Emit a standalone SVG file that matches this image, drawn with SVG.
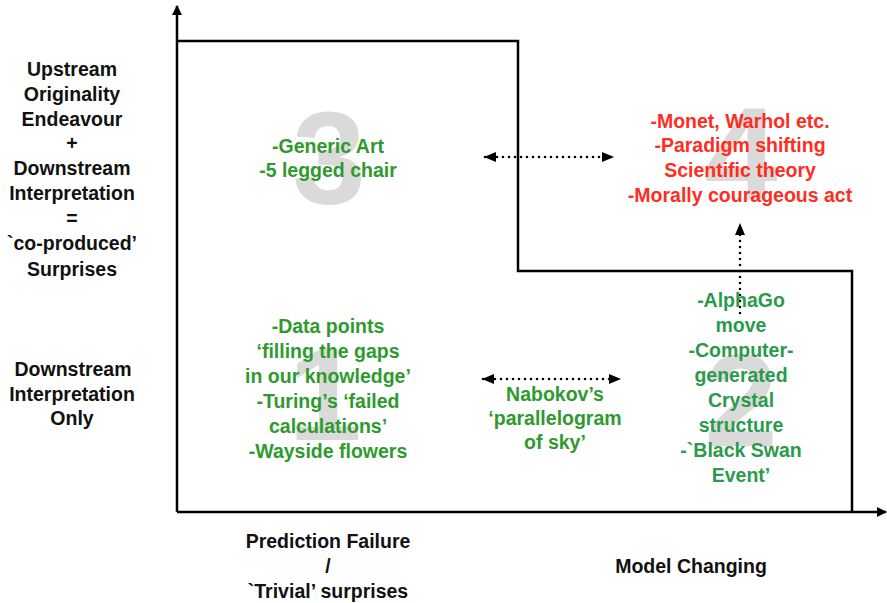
<svg xmlns="http://www.w3.org/2000/svg" width="887" height="603" viewBox="0 0 887 603">
  <style>
    text { font-family: "Liberation Sans", Arial, Helvetica, sans-serif; font-weight: bold; text-anchor: middle; }
    .lbl { font-size: 19.5px; fill: #111111; }
    .grn { font-size: 19.5px; fill: #2e9a2e; }
    .teal { font-size: 19.5px; fill: #2a9a4c; }
    .red { font-size: 19.5px; fill: #ff2d1f; }
    .num { font-size: 132px; fill: #dadada; }
    .axis { stroke: #000; stroke-width: 2.5; fill: none; }
    .dot { stroke: #000; stroke-width: 2.6; stroke-linecap: round; stroke-dasharray: 0 6; fill: none; }
  </style>
  <defs>
    <marker id="axisHead" viewBox="0 0 10 10" refX="9" refY="5" markerWidth="10" markerHeight="10" markerUnits="userSpaceOnUse" orient="auto">
      <path d="M0,0 L10,5 L0,10 z" fill="#000"/>
    </marker>
    <marker id="dotHead" viewBox="0 0 12 10" refX="11" refY="5" markerWidth="12" markerHeight="10" markerUnits="userSpaceOnUse" orient="auto-start-reverse">
      <path d="M0,0 L12,5 L0,10 z" fill="#000"/>
    </marker>
  </defs>

  <rect width="887" height="603" fill="#ffffff"/>

  <!-- quadrant numbers (background) -->
  <g id="quadrant-numbers">
    <text class="num" x="329" y="204">3</text>
    <text class="num" x="741" y="199">4</text>
    <text class="num" x="325" y="440">1</text>
    <text class="num" x="741" y="446">2</text>
  </g>

  <!-- axes and region outline -->
  <g id="axes">
    <line class="axis" x1="177" y1="512" x2="177" y2="6" marker-end="url(#axisHead)"/>
    <line class="axis" x1="177" y1="512" x2="886" y2="512" marker-end="url(#axisHead)"/>
    <polyline class="axis" points="177,41 518,41 518,271 852,271 852,512"/>
  </g>

  <!-- connectors -->
  <g id="connectors">
    <line class="dot" x1="485" y1="157" x2="613" y2="157" marker-start="url(#dotHead)" marker-end="url(#dotHead)"/>
    <line class="dot" x1="483" y1="379" x2="620" y2="379" marker-start="url(#dotHead)" marker-end="url(#dotHead)"/>
    <line class="dot" x1="740" y1="313" x2="740" y2="224" marker-end="url(#dotHead)"/>
  </g>

  <!-- vertical axis labels -->
  <g id="y-label-upper">
    <text class="lbl" x="72" y="76">Upstream</text>
    <text class="lbl" x="72" y="101">Originality</text>
    <text class="lbl" x="72" y="126">Endeavour</text>
    <text class="lbl" x="72" y="150">+</text>
    <text class="lbl" x="72" y="175">Downstream</text>
    <text class="lbl" x="72" y="200">Interpretation</text>
    <text class="lbl" x="72" y="225">=</text>
    <text class="lbl" x="72" y="250">`co-produced’</text>
    <text class="lbl" x="72" y="276">Surprises</text>
  </g>
  <g id="y-label-lower">
    <text class="lbl" x="73" y="376">Downstream</text>
    <text class="lbl" x="72" y="401">Interpretation</text>
    <text class="lbl" x="72" y="425">Only</text>
  </g>

  <!-- horizontal axis labels -->
  <g id="x-label-left">
    <text class="lbl" x="328" y="548">Prediction Failure</text>
    <text class="lbl" x="328" y="573">/</text>
    <text class="lbl" x="328" y="598">`Trivial’ surprises</text>
  </g>
  <g id="x-label-right">
    <text class="lbl" x="691" y="573">Model Changing</text>
  </g>

  <!-- quadrant 3 -->
  <g id="q3">
    <text class="grn" x="328" y="153">-Generic Art</text>
    <text class="grn" x="328" y="177">-5 legged chair</text>
  </g>

  <!-- quadrant 4 -->
  <g id="q4">
    <text class="red" x="740" y="128">-Monet, Warhol etc.</text>
    <text class="red" x="740" y="152">-Paradigm shifting</text>
    <text class="red" x="740" y="177">Scientific theory</text>
    <text class="red" x="740" y="202">-Morally courageous act</text>
  </g>

  <!-- quadrant 1 -->
  <g id="q1">
    <text class="grn" x="328" y="333">-Data points</text>
    <text class="grn" x="328" y="358">‘filling the gaps</text>
    <text class="grn" x="328" y="383">in our knowledge’</text>
    <text class="grn" x="328" y="408">-Turing’s ‘failed</text>
    <text class="grn" x="328" y="433">calculations’</text>
    <text class="grn" x="328" y="458">-Wayside flowers</text>
  </g>

  <!-- between quadrants 1 and 2 -->
  <g id="nabokov">
    <text class="grn" x="555" y="401">Nabokov’s</text>
    <text class="grn" x="555" y="425">‘parallelogram</text>
    <text class="grn" x="555" y="449">of sky’</text>
  </g>

  <!-- quadrant 2 -->
  <g id="q2">
    <text class="teal" x="741" y="307">-AlphaGo</text>
    <text class="teal" x="741" y="332">move</text>
    <text class="teal" x="741" y="357">-Computer-</text>
    <text class="teal" x="741" y="382">generated</text>
    <text class="teal" x="741" y="407">Crystal</text>
    <text class="teal" x="741" y="432">structure</text>
    <text class="teal" x="741" y="457">-`Black Swan</text>
    <text class="teal" x="741" y="482">Event’</text>
  </g>
</svg>
